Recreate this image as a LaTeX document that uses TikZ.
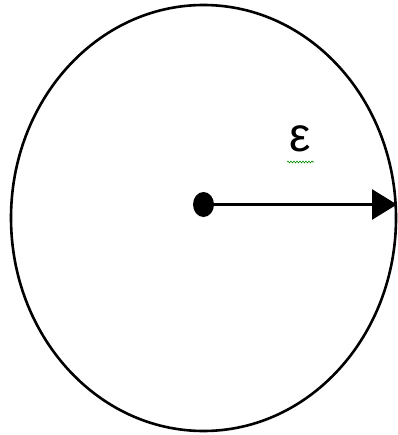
\documentclass[tikz,border=0pt]{standalone}
\usepackage{fontspec}
\newfontfamily\epsfont{Liberation Sans}
\usetikzlibrary{arrows.meta, shapes.geometric, decorations.pathmorphing}

\begin{document}
\begin{tikzpicture}[x=1pt, y=-1pt]

    \useasboundingbox (0,0) rectangle (397,435);

    \draw[line width=2.6pt] (203.5,218) ellipse (192.5pt and 213pt);

    \node (centre) [ellipse, fill=black, inner sep=0pt, minimum width=21pt, minimum height=25pt] at (203.5,204.5) {};
    \coordinate (rim) at (397,204.5);
    \draw[line width=2.6pt, -{Triangle[length=25pt, width=30pt]}] (centre) -- (rim);

    \node (eps) [inner sep=0pt] at (300,138.5) {\epsfont\fontsize{48}{48}\selectfont ε};
    \draw[green!55!black, line width=0.6pt, decorate, decoration={snake, amplitude=0.9pt, segment length=3pt}] (287,162) -- (314,162);

\end{tikzpicture}
\end{document}
